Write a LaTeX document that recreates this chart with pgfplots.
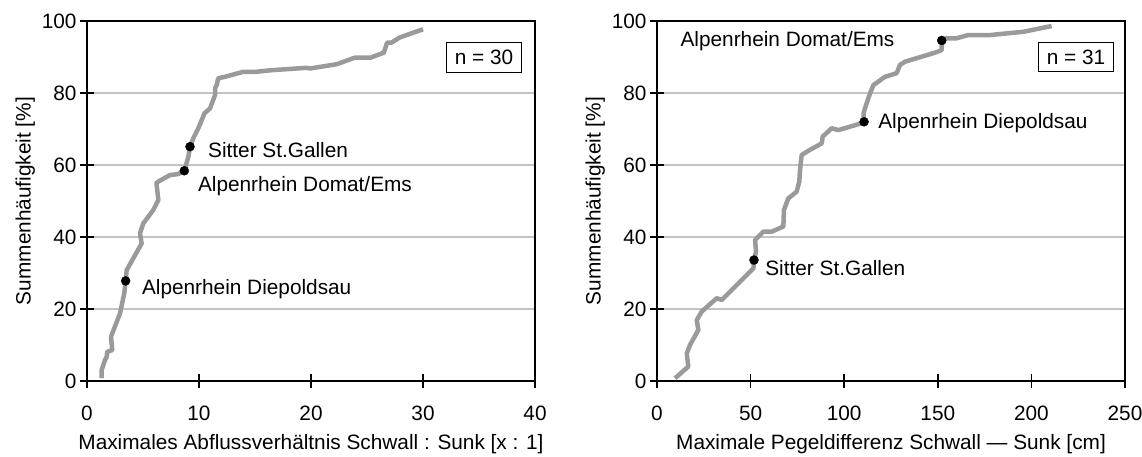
\documentclass[border=0pt]{standalone}
\usepackage{pgfplots}
\pgfplotsset{compat=1.18}
\usepackage{fontspec}
\setmainfont{Liberation Sans}
\definecolor{curvegray}{HTML}{9A9A9A}
\definecolor{gridgray}{HTML}{C4C4C4}

% Summenkurven
\pgfplotstableread{
x y
1.3 0.8
1.3 3
1.6 5.8
1.76 6.7
1.8 8.1
2.26 8.6
2.14 12.3
2.95 18.8
3.33 24.4
3.45 27.8
3.54 30.8
4.88 38.2
4.73 41
5.03 43.8
5.92 47.5
6.37 50.3
6.2 55.0
6.37 55.4
7.4 57.2
8.15 57.5
8.69 58.4
9.05 62.3
9.2 65.1
9.49 67.4
9.94 70.2
10.5 74.4
10.98 75.7
11.43 79.4
11.43 81.3
11.58 82.2
11.72 84.1
12.32 84.5
13.96 85.9
15.15 85.9
16.34 86.3
19.6 87
19.9 86.8
22.3 88.0
23.9 89.8
25.3 89.8
26.5 91.2
26.8 94
27.2 94
27.9 95.4
30.0 97.7
}\abfluss

\pgfplotstableread{
x y
9.6 0.75
16.7 4
15.9 7.7
17.6 10
22.1 14.2
21.2 16.9
23.9 19.3
31.9 23
34.6 22.5
51.5 31.3
51.8 33.6
52.9 35.9
52.4 39.2
56.8 41.5
61.3 41.5
67.5 42.9
67.8 47.5
70.1 50.7
74.6 52.6
76.0 55.4
76.4 58.6
77.3 62.8
81.7 64.2
88 66
88.5 67.9
93.3 70.2
96.9 69.7
109.3 71.6
110.6 72.0
110.3 74.4
112 77.2
113.8 79.9
115.6 82.2
121.8 84.5
128 85.5
129.8 87.8
132.5 88.7
148.5 91.2
152.1 91.9
152.1 94.6
154.7 95.2
160 95.2
166.2 96.1
177.9 96.1
195.7 97
210.8 98.6
}\pegel

\pgfplotsset{
  sumkurve/.style={
    scale only axis,
    height=360pt,
    ymin=0, ymax=100, ytick={0,20,...,100},
    font=\fontsize{20.8}{25}\selectfont,
    /pgf/number format/assume math mode=true,
    axis line style={black, line width=1.5pt},
    tick style={black, line width=1.5pt},
    major tick length=14pt,
    tick align=center,
    xtick pos=bottom, ytick pos=left,
    xticklabel style={yshift=-14pt},
    xlabel style={yshift=-7pt},
    ymajorgrids,
    major grid style={gridgray, line width=1.3pt},
    ylabel={Summenhäufigkeit [\%]},
    clip=false,
  },
  kurve/.style={curvegray, line width=4.5pt, line join=round},
  punkt/.style={only marks, mark=*, mark size=4.5pt, black},
}
\tikzset{nbox/.style={draw=black, line width=1.2pt, fill=white, inner xsep=8pt, inner ysep=7.5pt}}

\begin{document}
\begin{tikzpicture}
\path[use as bounding box] (0,0) rectangle (1142pt,456pt);

\begin{axis}[sumkurve,
  at={(87pt,75pt)}, anchor=south west,
  width=448pt,
  xmin=0, xmax=40, xtick={0,10,...,40},
  xlabel={Maximales Abflussverhältnis Schwall : Sunk [x : 1]},
]
\addplot[kurve] table {\abfluss};
\addplot[punkt] coordinates {(9.2,65.1) (8.69,58.4) (3.45,27.8)};
\node[anchor=west] at (axis cs:10.5,64.2) {Sitter St.Gallen};
\node[anchor=west] at (axis cs:9.6,54.2) {Alpenrhein Domat/Ems};
\node[anchor=west] at (axis cs:4.6,25.6) {Alpenrhein Diepoldsau};
\node[nbox] at (axis cs:35.45,89.9) {n = 30};
\end{axis}

\begin{axis}[sumkurve,
  at={(657pt,75pt)}, anchor=south west,
  width=468pt,
  xmin=0, xmax=250, xtick={0,50,...,250},
  xlabel={Maximale Pegeldifferenz Schwall — Sunk [cm]},
]
\addplot[kurve] table {\pegel};
\addplot[punkt] coordinates {(51.8,33.6) (110.6,72.0) (152.1,94.6)};
\node[anchor=west] at (axis cs:10.7,94.4) {Alpenrhein Domat/Ems};
\node[anchor=west] at (axis cs:116.3,71.7) {Alpenrhein Diepoldsau};
\node[anchor=west] at (axis cs:56,31.4) {Sitter St.Gallen};
\node[nbox] at (axis cs:223.8,90) {n = 31};
\end{axis}
\end{tikzpicture}
\end{document}
